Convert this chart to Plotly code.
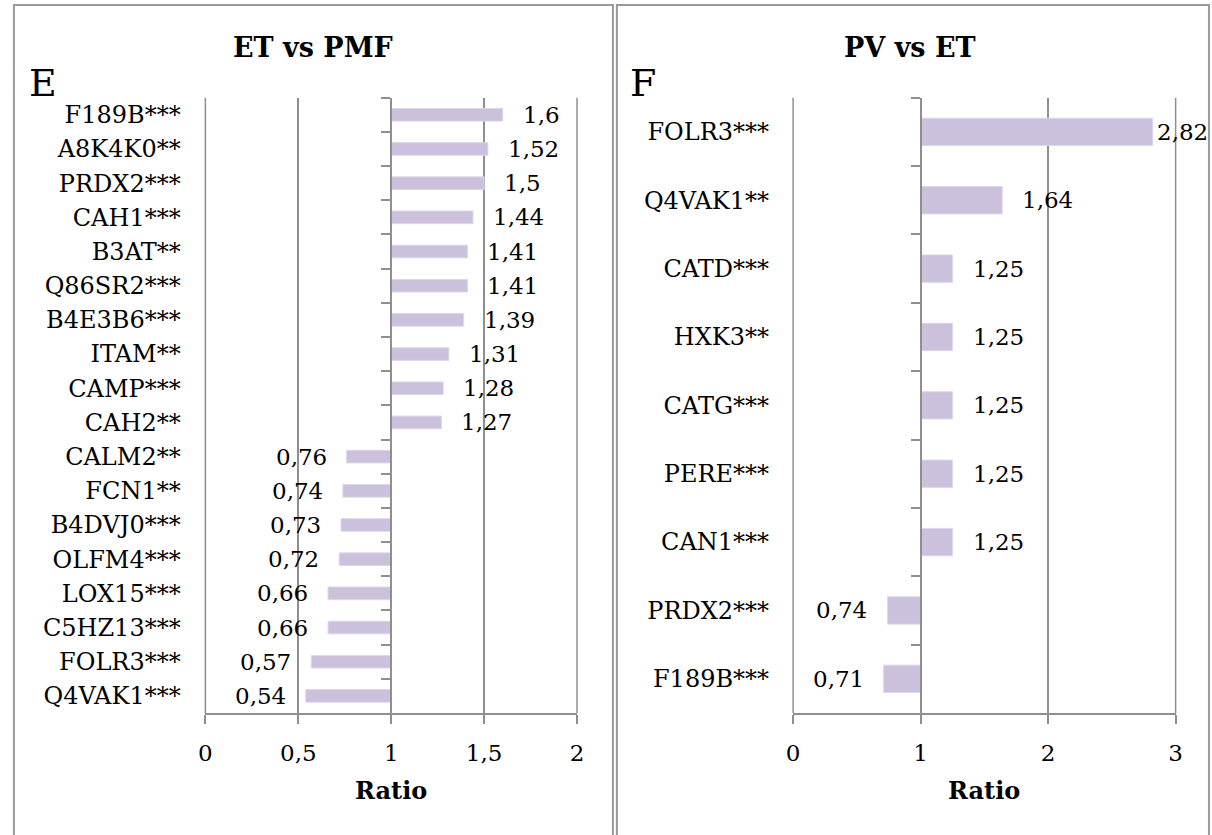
import plotly.graph_objects as go

# ---------------- data ----------------
left_title = "ET vs PMF"
left_letter = "E"
left_categories = ["F189B***", "A8K4K0**", "PRDX2***", "CAH1***", "B3AT**", "Q86SR2***",
                   "B4E3B6***", "ITAM**", "CAMP***", "CAH2**", "CALM2**", "FCN1**",
                   "B4DVJ0***", "OLFM4***", "LOX15***", "C5HZ13***", "FOLR3***", "Q4VAK1***"]
left_values = [1.6, 1.52, 1.5, 1.44, 1.41, 1.41, 1.39, 1.31, 1.28, 1.27,
               0.76, 0.74, 0.73, 0.72, 0.66, 0.66, 0.57, 0.54]
left_range = [0, 2]
left_dtick = 0.5

right_title = "PV vs ET"
right_letter = "F"
right_categories = ["FOLR3***", "Q4VAK1**", "CATD***", "HXK3**", "CATG***", "PERE***",
                    "CAN1***", "PRDX2***", "F189B***"]
right_values = [2.82, 1.64, 1.25, 1.25, 1.25, 1.25, 1.25, 0.74, 0.71]
right_range = [0, 3]
right_dtick = 1

x_title = "Ratio"
baseline = 1

# ---------------- styling / geometry ----------------
W, H = 1212, 835
FONT = "DejaVu Serif"
GRID = "#8f8f8f"
BAR = "#CBC1DD"
BORDER = "#9a9a9a"
FS = 23
FS_CAT = 24


def X(px):
    return px / W


def Y(py):
    return 1 - py / H


plot_top, plot_bottom = 97.7, 713.0
panels = [
    dict(cats=left_categories, vals=left_values, rng=left_range, dtick=left_dtick,
         title=left_title, letter=left_letter, px0=200.7, px1=576.7, barw=0.37,
         box=(7, 613), title_x=310, letter_x=20, suffix=""),
    dict(cats=right_categories, vals=right_values, rng=right_range, dtick=right_dtick,
         title=right_title, letter=right_letter, px0=795.3, px1=1182.3, barw=0.40,
         box=(617, 1216), title_x=914, letter_x=628, suffix="2"),
]

fig = go.Figure()
annotations = []
shapes = []
layout = {}

for p in panels:
    s = p["suffix"]
    xa = "x" + s
    ya = "y" + s
    n = len(p["cats"])
    ppu = (p["px1"] - p["px0"]) / (p["rng"][1] - p["rng"][0])
    axis_px = p["px0"] + (baseline - p["rng"][0]) * ppu

    fig.add_trace(go.Bar(
        orientation="h",
        y=p["cats"],
        x=[v - baseline for v in p["vals"]],
        base=baseline,
        width=p["barw"],
        marker=dict(color=BAR, line=dict(color="#ddd7e8", width=1)),
        xaxis=xa, yaxis=ya, hoverinfo="skip",
    ))

    layout["xaxis" + s] = dict(
        domain=[X(p["px0"]), X(p["px1"])], range=p["rng"], dtick=p["dtick"], tick0=0,
        showgrid=True, gridcolor=GRID, gridwidth=1.5, zeroline=False,
        showline=True, linecolor=GRID, linewidth=1.5,
        ticks="outside", ticklen=9, tickwidth=1.5, tickcolor=GRID,
        anchor=ya, ticklabelstandoff=10,
        tickfont=dict(family=FONT, size=FS, color="black"),
    )
    label_right_px = p["px0"] - 27
    layout["yaxis" + s] = dict(
        domain=[Y(plot_bottom), Y(plot_top)], type="category",
        categoryarray=p["cats"], range=[n - 0.5, -0.5],
        anchor="free", position=X(axis_px), side="left",
        showgrid=False, zeroline=False, showline=True, linecolor=GRID, linewidth=1.5,
        ticks="outside", ticklen=9, tickwidth=1.5, tickcolor=GRID, tickson="boundaries",
        ticklabelstandoff=int(round(axis_px - label_right_px - 9 - 1)),
        tickfont=dict(family=FONT, size=FS_CAT, color="black"),
    )

    # gridlines at the two ends of the value range (edges of the plot area)
    for edge_px in (p["px0"], p["px1"]):
        shapes.append(dict(type="line", xref="paper", yref="paper",
                           x0=X(edge_px), x1=X(edge_px), y0=Y(plot_bottom), y1=Y(plot_top),
                           line=dict(color=GRID, width=1.5), layer="below"))

    # value labels
    for c, v in zip(p["cats"], p["vals"]):
        txt = ("%g" % v).replace(".", ",")
        end_px = p["px0"] + (v - p["rng"][0]) * ppu
        if v >= baseline:
            shift = 18
            est_w = len(txt) * 13
            if end_px + shift + est_w > p["box"][1] - 4:
                shift = max(2, p["box"][1] - 4 - est_w - end_px)
            annotations.append(dict(x=v, y=c, xref=xa, yref=ya, text=txt, showarrow=False,
                                    xanchor="left", xshift=shift,
                                    font=dict(family=FONT, size=FS, color="black")))
        else:
            annotations.append(dict(x=v, y=c, xref=xa, yref=ya, text=txt, showarrow=False,
                                    xanchor="right", xshift=-18,
                                    font=dict(family=FONT, size=FS, color="black")))

    # panel title, letter, axis title
    annotations.append(dict(x=X(p["title_x"]), y=Y(47), xref="paper", yref="paper",
                            text="<b>%s</b>" % p["title"], showarrow=False,
                            xanchor="center", yanchor="middle",
                            font=dict(family=FONT, size=27, color="black")))
    annotations.append(dict(x=X(p["letter_x"]), y=Y(83), xref="paper", yref="paper",
                            text=p["letter"], showarrow=False,
                            xanchor="left", yanchor="middle",
                            font=dict(family=FONT, size=38, color="black")))
    annotations.append(dict(x=0.5, y=Y(790), xref=xa + " domain", yref="paper",
                            text="<b>%s</b>" % x_title, showarrow=False,
                            xanchor="center", yanchor="middle",
                            font=dict(family=FONT, size=24, color="black")))

    # panel border
    shapes.append(dict(type="rect", xref="paper", yref="paper",
                       x0=X(p["box"][0]), x1=X(p["box"][1]), y0=Y(H + 20), y1=Y(5),
                       line=dict(color=BORDER, width=2), fillcolor="rgba(0,0,0,0)",
                       layer="below"))

fig.update_layout(
    width=W, height=H, margin=dict(l=0, r=0, t=0, b=0),
    paper_bgcolor="white", plot_bgcolor="rgba(0,0,0,0)",
    showlegend=False, separators=", ",
    font=dict(family=FONT, size=FS, color="black"),
    annotations=annotations, shapes=shapes, **layout,
)

fig.write_html("out.html", config={"displayModeBar": False},
               post_script="document.body.style.margin='0';")
